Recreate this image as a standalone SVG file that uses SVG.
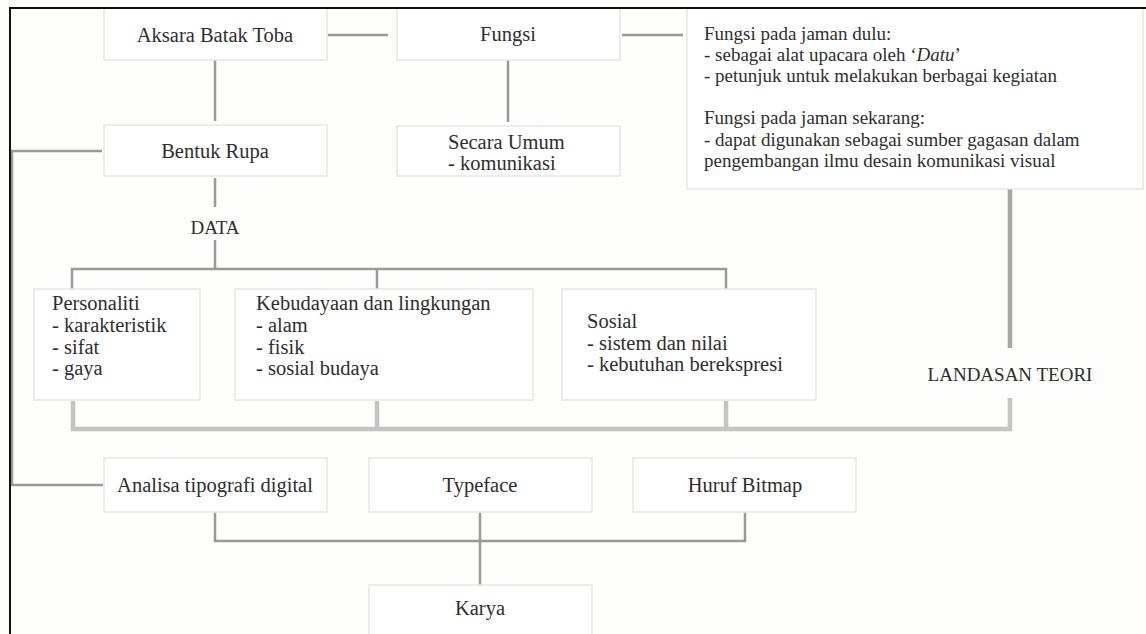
<svg xmlns="http://www.w3.org/2000/svg" width="1146" height="634" viewBox="0 0 1146 634" font-family="'Liberation Serif', 'DejaVu Serif', serif">
<style>
.bg{fill:#fdfdfb}
.box{fill:#ffffff;stroke:#e6e6e4;stroke-width:1.5}
text{font-family:'Liberation Serif','DejaVu Serif',serif;font-size:20.5px;fill:#2e2e2e}
.s{font-size:19px}
.c{text-anchor:middle}
.ln{fill:none;stroke:#9a9a9a;stroke-width:2.5}
.thick{fill:none;stroke:#a6a6a6;stroke-width:4.5}
.light{fill:none;stroke:#c4c4c4;stroke-width:4.5}
.frame{fill:none;stroke:#111;stroke-width:2}
</style>
<rect class="bg" x="0" y="0" width="1146" height="634"/>
<g id="connectors">
<line class="ln" x1="328" y1="35" x2="388" y2="35"/>
<line class="ln" x1="622" y1="35" x2="683" y2="35"/>
<line class="ln" x1="508" y1="60" x2="508" y2="122"/>
<line class="ln" x1="215" y1="60" x2="215" y2="121"/>
<polyline class="ln" points="102,151 12,151 12,485 103,485"/>
<line class="ln" x1="215" y1="178" x2="215" y2="207"/>
<line class="ln" x1="215" y1="240" x2="215" y2="269"/>
<polyline class="ln" points="72,289 72,269 726,269 726,289"/>
<line class="ln" x1="377" y1="269" x2="377" y2="289"/>
<line class="thick" x1="1010" y1="189" x2="1010" y2="348"/>
<polyline class="light" points="73,401 73,429 1010,429 1010,398"/>
<line class="light" x1="377" y1="401" x2="377" y2="429"/>
<line class="light" x1="726" y1="401" x2="726" y2="429"/>
<polyline class="ln" points="215,512 215,541 745,541 745,512"/>
<line class="ln" x1="480" y1="512" x2="480" y2="585"/>
</g>
<g id="n-aksara"><rect class="box" x="104" y="8" width="223" height="52"/><text class="c" x="215" y="42">Aksara Batak Toba</text></g>
<g id="n-fungsi"><rect class="box" x="397" y="8" width="223" height="52"/><text class="c" x="508" y="41">Fungsi</text></g>
<g id="n-fungsi-detail"><rect class="box" x="687" y="8" width="456" height="181"/>
<text class="s" x="704" y="40">Fungsi pada jaman dulu:</text>
<text class="s" x="704" y="61">- sebagai alat upacara oleh ‘<tspan font-style="italic">Datu</tspan>’</text>
<text class="s" x="704" y="82">- petunjuk untuk melakukan berbagai kegiatan</text>
<text class="s" x="704" y="124">Fungsi pada jaman sekarang:</text>
<text class="s" x="704" y="146">- dapat digunakan sebagai sumber gagasan dalam</text>
<text class="s" x="704" y="167">pengembangan ilmu desain komunikasi visual</text>
</g>
<g id="n-bentuk"><rect class="box" x="104" y="125" width="223" height="51"/><text class="c" x="215" y="158">Bentuk Rupa</text></g>
<g id="n-umum"><rect class="box" x="397" y="126" width="223" height="50"/><text x="448" y="149">Secara Umum</text><text x="448" y="170">- komunikasi</text></g>
<g id="n-data"><text class="c s" x="215" y="234">DATA</text></g>
<g id="n-personaliti"><rect class="box" x="34" y="289" width="166" height="111"/>
<text x="52" y="310">Personaliti</text><text x="52" y="332">- karakteristik</text><text x="52" y="354">- sifat</text><text x="52" y="375">- gaya</text></g>
<g id="n-kebudayaan"><rect class="box" x="235" y="289" width="298" height="111"/>
<text x="256" y="310">Kebudayaan dan lingkungan</text><text x="256" y="332">- alam</text><text x="256" y="354">- fisik</text><text x="256" y="375">- sosial budaya</text></g>
<g id="n-sosial"><rect class="box" x="562" y="289" width="254" height="111"/>
<text x="587" y="328">Sosial</text><text x="587" y="350">- sistem dan nilai</text><text x="587" y="371">- kebutuhan berekspresi</text></g>
<g id="n-landasan"><text class="c s" x="1010" y="381">LANDASAN TEORI</text></g>
<g id="n-analisa"><rect class="box" x="104" y="458" width="223" height="54"/><text class="c" x="215" y="492">Analisa tipografi digital</text></g>
<g id="n-typeface"><rect class="box" x="369" y="458" width="223" height="54"/><text class="c" x="480" y="492">Typeface</text></g>
<g id="n-bitmap"><rect class="box" x="633" y="458" width="223" height="54"/><text class="c" x="745" y="492">Huruf Bitmap</text></g>
<g id="n-karya"><rect class="box" x="369" y="585" width="223" height="60"/><text class="c" x="480" y="615">Karya</text></g>
<polyline class="frame" points="10,634 10,8 1146,8"/>
</svg>
